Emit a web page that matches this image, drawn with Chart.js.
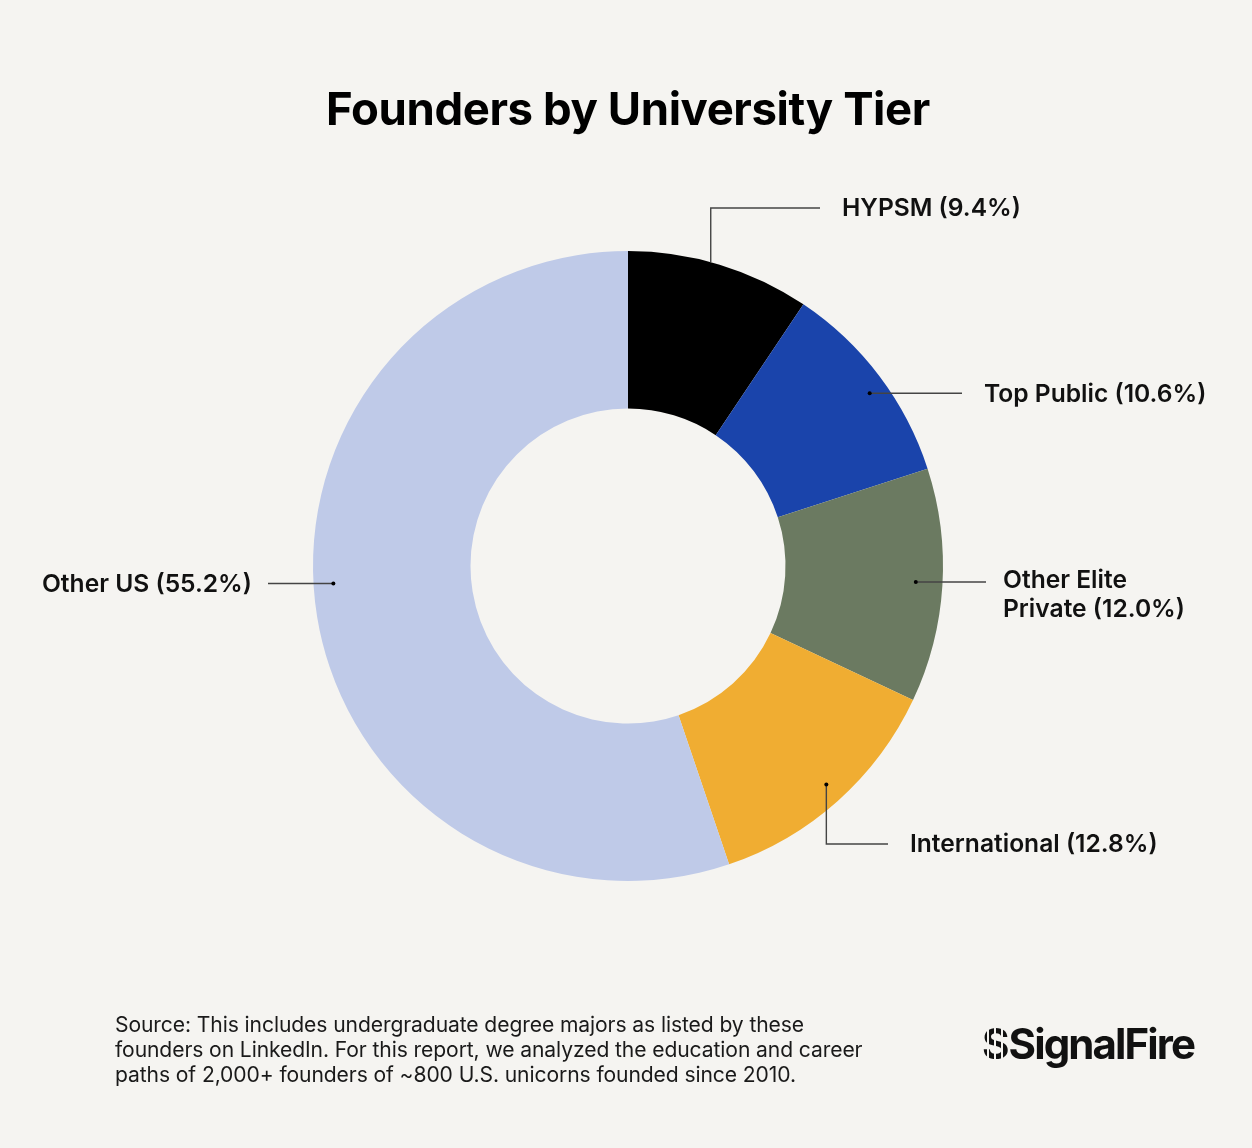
<!DOCTYPE html>
<html>
<head>
<meta charset="utf-8">
<script src="https://cdn.jsdelivr.net/npm/chart.js@4.4.1/dist/chart.umd.min.js"></script>
<style>
  html, body { margin:0; padding:0; background:#f5f4f1; }
  #wrap { position:relative; width:1252px; height:1148px; overflow:hidden; background:#f5f4f1; font-family: Inter, "Noto Sans", sans-serif; }
  #title { position:absolute; left:2px; width:1252px; top:81px; text-align:center; font-size:45.5px; font-weight:700; color:#000; letter-spacing:-0.4px; line-height:56px; }
  #note { position:absolute; left:115px; top:1012px; font-size:21.1px; line-height:25px; color:#1a1a1a; letter-spacing:-0.1px; }
  #logo { position:absolute; left:982px; top:1019px; font-size:42px; font-weight:700; letter-spacing:-1.9px; color:#111; line-height:50px; white-space:nowrap; }
  #logo .mark { display:inline-block; background:repeating-linear-gradient(to right, #111 0 5px, transparent 5px 7px); -webkit-background-clip:text; background-clip:text; color:transparent; margin-right:1px; }
  canvas { position:absolute; left:0; top:0; }
</style>
</head>
<body>
<div id="wrap">
  <canvas id="c" width="1252" height="1148"></canvas>
  <div id="title">Founders by University Tier</div>
  <div id="note">Source: This includes undergraduate degree majors as listed by these<br>founders on LinkedIn. For this report, we analyzed the education and career<br>paths of 2,000+ founders of ~800 U.S. unicorns founded since 2010.</div>
  <div id="logo"><span class="mark">S</span>SignalFire</div>
</div>
<script>
const categories = ["HYPSM", "Top Public", "Other Elite Private", "International", "Other US"];
const shares = [9.4, 10.6, 12.0, 12.8, 55.2];
const labelLines = [["HYPSM (9.4%)"], ["Top Public (10.6%)"], ["Other Elite", "Private (12.0%)"], ["International (12.8%)"], ["Other US (55.2%)"]];
const colors = ["#000000", "#1a44ab", "#6b7a61", "#f0ad32", "#bfcae8"];

// leader-line layout (style only): t = position along the arc, rf = radius fraction
const leaders = [
  { t: 0.45, rf: 1.0, dot: false, kind: "upRight", elbowY: -358, endX: 192, textX: 214 },
  { t: 0.54, rf: 0.943, dot: true, kind: "right", endX: 334, textX: 356 },
  { t: 0.49, rf: 0.915, dot: true, kind: "right", endX: 358, textX: 375 },
  { t: 0.49, rf: 0.937, dot: true, kind: "downRight", elbowY: 278, endX: 260, textX: 282 },
  { t: 0.53, rf: 0.937, dot: true, kind: "left", endX: -360, textX: -376 }
];

const leaderPlugin = {
  id: "leaders",
  afterDraw(chart) {
    const ctx = chart.ctx;
    const meta = chart.getDatasetMeta(0);
    ctx.save();
    ctx.font = "600 24.6px Inter, 'Noto Sans', sans-serif";
    ctx.textBaseline = "middle";
    meta.data.forEach((arc, i) => {
      const p = arc.getProps(["x", "y", "startAngle", "endAngle", "outerRadius"], true);
      const L = leaders[i];
      const a = p.startAngle + L.t * (p.endAngle - p.startAngle);
      const r = p.outerRadius * L.rf;
      const dx = p.x + r * Math.cos(a);
      const dy = p.y + r * Math.sin(a);
      ctx.strokeStyle = "#444";
      ctx.lineWidth = 1.4;
      ctx.beginPath();
      ctx.moveTo(dx, dy);
      let ty = dy;
      if (L.kind === "upRight" || L.kind === "downRight") {
        const ey = p.y + L.elbowY;
        ctx.lineTo(dx, ey);
        ctx.lineTo(p.x + L.endX, ey);
        ty = ey;
      } else {
        ctx.lineTo(p.x + L.endX, dy);
      }
      ctx.stroke();
      if (L.dot) {
        ctx.fillStyle = "#000";
        ctx.beginPath();
        ctx.arc(dx, dy, 2, 0, Math.PI * 2);
        ctx.fill();
      }
      ctx.fillStyle = "#111";
      ctx.textAlign = L.kind === "left" ? "right" : "left";
      const lines = labelLines[i];
      const lh = 29;
      const y0 = lines.length > 1 ? ty - 1 : ty + 1;
      lines.forEach((s, k) => ctx.fillText(s, p.x + L.textX, y0 + k * lh));
    });
    ctx.restore();
  }
};

new Chart(document.getElementById("c"), {
  type: "doughnut",
  data: {
    labels: categories,
    datasets: [{
      data: shares,
      backgroundColor: colors,
      borderWidth: 0,
      hoverOffset: 0
    }]
  },
  options: {
    responsive: false,
    animation: false,
    cutout: "50%",
    rotation: 0,
    layout: { padding: { left: 313, right: 309, top: 251, bottom: 267 } },
    plugins: { legend: { display: false }, tooltip: { enabled: false }, title: { display: false } },
    events: []
  },
  plugins: [leaderPlugin]
});
</script>
</body>
</html>
